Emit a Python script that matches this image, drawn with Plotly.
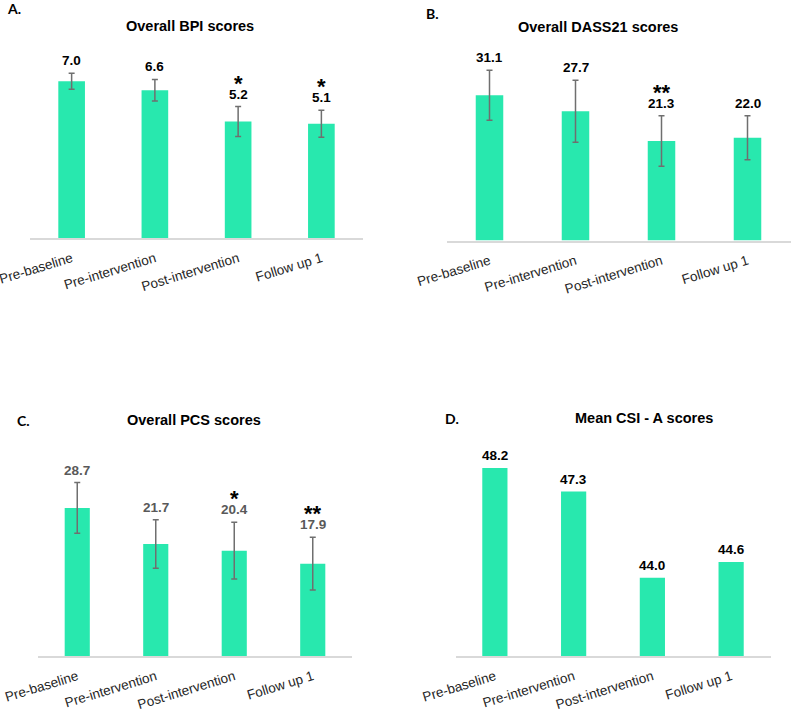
import plotly.graph_objects as go

# --- data ---
categories = ["Pre-baseline", "Pre-intervention", "Post-intervention", "Follow up 1"]

bpi_mean = [7.0, 6.6, 5.2, 5.1]
bpi_err = [0.36, 0.48, 0.67, 0.60]
bpi_stars = ["", "", "*", "*"]

dass_mean = [31.1, 27.7, 21.3, 22.0]
dass_err = [5.35, 6.64, 5.40, 4.70]
dass_stars = ["", "", "**", ""]

pcs_mean = [28.7, 21.7, 20.4, 17.9]
pcs_err = [4.9, 4.7, 5.5, 5.1]
pcs_stars = ["", "", "*", "**"]

csi_mean = [48.2, 47.3, 44.0, 44.6]

W, H = 791, 710
BAR = "#28E8AE"
ERR = "#6f6f6f"
FONT = "Liberation Sans"

# panel geometry in pixels: x0, x1, baseline y, top y, px per unit, y min
panels = [
    dict(key="", letter="A.", title="Overall BPI scores", mean=bpi_mean, err=bpi_err, stars=bpi_stars,
         x0=30, x1=363, base=238, top=40, ppu=22.4, ymin=0, lab="#000000",
         letter_xy=(14, 9), title_xy=(190, 26)),
    dict(key="2", letter="B.", title="Overall DASS21 scores", mean=dass_mean, err=dass_err, stars=dass_stars,
         x0=446.5, x1=790.5, base=240.5, top=40, ppu=4.67, ymin=0, lab="#000000",
         letter_xy=(432, 14), title_xy=(598, 27)),
    dict(key="3", letter="C.", title="Overall PCS scores", mean=pcs_mean, err=pcs_err, stars=pcs_stars,
         x0=38, x1=352, base=656, top=440, ppu=5.16, ymin=0, lab="#595959",
         letter_xy=(23, 420), title_xy=(194, 420)),
    dict(key="4", letter="D.", title="Mean CSI - A scores", mean=csi_mean, err=None, stars=None,
         x0=455.5, x1=770.5, base=656, top=440, ppu=26.1, ymin=41.0, lab="#000000",
         letter_xy=(452, 418), title_xy=(644, 418)),
]

fig = go.Figure()
annotations = []
layout = {}

for p in panels:
    k = p["key"]
    xa, ya = "x" + k, "y" + k
    bar = go.Bar(
        x=categories,
        y=p["mean"],
        width=0.32,
        marker=dict(color=BAR, line=dict(width=0)),
        xaxis=xa,
        yaxis=ya,
        showlegend=False,
    )
    if p["err"] is not None:
        bar.error_y = dict(type="data", array=p["err"], color=ERR, thickness=1.5, width=3)
    fig.add_trace(bar)

    ytop = p["ymin"] + (p["base"] - p["top"]) / p["ppu"]
    layout["xaxis" + k] = dict(
        domain=[p["x0"] / W, p["x1"] / W],
        anchor=ya,
        automargin=False,
        showline=True,
        linecolor="#d9d9d9",
        linewidth=1.5,
        ticks="",
        tickangle=-17,
        ticklabelstandoff=6,
        tickfont=dict(family=FONT, size=13.5, color="#262626"),
        showgrid=False,
        zeroline=False,
        fixedrange=True,
    )
    layout["yaxis" + k] = dict(
        domain=[1 - p["base"] / H, 1 - p["top"] / H],
        anchor=xa,
        automargin=False,
        range=[p["ymin"], ytop],
        visible=False,
        showgrid=False,
        zeroline=False,
    )

    # value labels and significance stars
    for i, c in enumerate(categories):
        e = p["err"][i] if p["err"] is not None else 0
        yv = p["mean"][i] + e
        annotations.append(dict(
            x=c, y=yv, xref=xa, yref=ya, text="<b>%.1f</b>" % p["mean"][i],
            showarrow=False, yanchor="bottom", yshift=3,
            font=dict(family=FONT, size=13.5, color=p["lab"]),
        ))
        if p["stars"] and p["stars"][i]:
            annotations.append(dict(
                x=c, y=yv, xref=xa, yref=ya, text="<b>%s</b>" % p["stars"][i],
                showarrow=False, yanchor="bottom", yshift=9,
                font=dict(family=FONT, size=22, color="#000000"),
            ))

    annotations.append(dict(
        x=p["title_xy"][0] / W, y=1 - p["title_xy"][1] / H, xref="paper", yref="paper",
        text="<b>%s</b>" % p["title"], showarrow=False, xanchor="center", yanchor="middle",
        font=dict(family=FONT, size=14.5, color="#000000"),
    ))
    annotations.append(dict(
        x=p["letter_xy"][0] / W, y=1 - p["letter_xy"][1] / H, xref="paper", yref="paper",
        text="<b>%s</b>" % p["letter"], showarrow=False, xanchor="center", yanchor="middle",
        font=dict(family="Lato", size=14, color="#000000"),
    ))

fig.update_layout(
    width=W,
    height=H,
    margin=dict(l=0, r=0, t=0, b=0),
    paper_bgcolor="white",
    plot_bgcolor="white",
    annotations=annotations,
    **layout,
)

# the page body has a default 8px margin; drop it so the figure sits at the corner
fig.write_html(
    "out.html",
    config={"displayModeBar": False},
    post_script="document.body.style.margin='0px';",
)
